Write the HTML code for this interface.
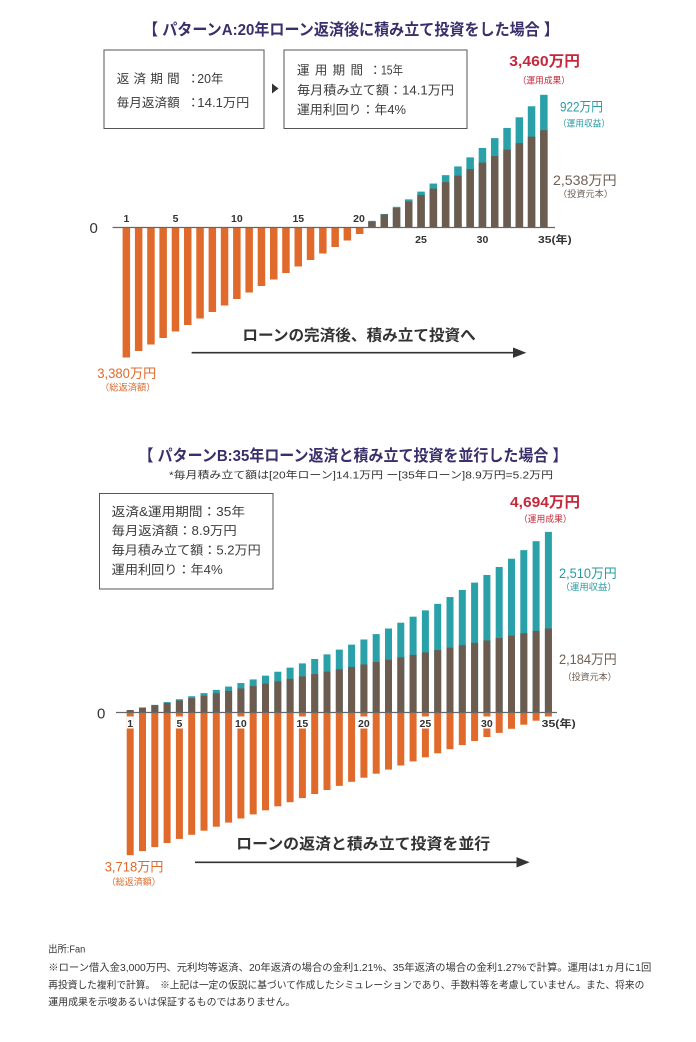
<!DOCTYPE html>
<html><head><meta charset="utf-8">
<style>
html,body{margin:0;padding:0;background:#fff;}
svg{display:block;}
text{font-family:"Liberation Sans","Noto Sans CJK JP",sans-serif;}
.ttl{font-size:16px;font-weight:bold;fill:#3a2f6b;}
.box{font-size:12.5px;fill:#3c3c3c;}
.box2{font-size:12.5px;fill:#3c3c3c;}
.red{fill:#c4283a;font-weight:bold;font-size:15px;}
.teal{fill:#2a9aa5;font-size:13.5px;}
.brn{fill:#6f6055;font-size:13.5px;}
.org{fill:#e06a2c;font-size:13.5px;}
.sm{font-size:9px;}
.ax{font-size:10.5px;font-weight:bold;fill:#333;}
.zero{font-size:15px;fill:#333;}
.arr{font-size:15.5px;font-weight:bold;fill:#333;}
.ft{font-size:10px;fill:#333;}
</style></head>
<body>
<svg width="696" height="1042" viewBox="0 0 696 1042" xmlns="http://www.w3.org/2000/svg">
<rect x="0" y="0" width="696" height="1042" fill="#fff"/>

<!-- ===== Chart A ===== -->
<text class="ttl" x="143" y="35" textLength="416" lengthAdjust="spacingAndGlyphs">【 パターンA:20年ローン返済後に積み立て投資をした場合 】</text>

<rect x="104" y="50" width="160" height="78.5" fill="#fff" stroke="#555" stroke-width="1"/>
<text class="box" x="116.7" y="83" textLength="63" lengthAdjust="spacing">返済期間</text>
<text class="box" x="187" y="83">：</text>
<text class="box" x="197.3" y="83" textLength="26" lengthAdjust="spacingAndGlyphs">20年</text>
<text class="box" x="116.7" y="107" textLength="63" lengthAdjust="spacingAndGlyphs">毎月返済額</text>
<text class="box" x="187" y="107">：</text>
<text class="box" x="197.3" y="107" textLength="52" lengthAdjust="spacingAndGlyphs">14.1万円</text>

<polygon points="272,83.5 278.5,88.5 272,93.5" fill="#333"/>

<rect x="284" y="50" width="183" height="78.5" fill="#fff" stroke="#555" stroke-width="1"/>
<text class="box2" x="297" y="74.5" textLength="66" lengthAdjust="spacing">運用期間</text>
<text class="box2" x="369" y="74.5">：</text>
<text class="box2" x="381" y="74.5" textLength="22" lengthAdjust="spacingAndGlyphs">15年</text>
<text class="box2" x="297" y="94.5" textLength="157" lengthAdjust="spacingAndGlyphs">毎月積み立て額：14.1万円</text>
<text class="box2" x="297" y="114" textLength="109" lengthAdjust="spacingAndGlyphs">運用利回り：年4%</text>

<text class="red" x="509.3" y="66" textLength="70.7" lengthAdjust="spacingAndGlyphs">3,460万円</text>
<text class="red sm" style="font-weight:normal" x="517.7" y="83.5" textLength="52.3" lengthAdjust="spacingAndGlyphs">（運用成果）</text>
<text class="teal" x="560" y="111.5" textLength="43" lengthAdjust="spacingAndGlyphs">922万円</text>
<text class="teal sm" x="558" y="126.7" textLength="52" lengthAdjust="spacingAndGlyphs">（運用収益）</text>
<text class="brn" x="553" y="185" textLength="63.7" lengthAdjust="spacingAndGlyphs">2,538万円</text>
<text class="brn sm" x="558" y="196.8" textLength="55" lengthAdjust="spacingAndGlyphs">（投資元本）</text>

<g transform="translate(0,227.5)">
<g fill="#e06a2c">
<rect x="122.6" y="0" width="7.5" height="130"/>
<rect x="134.9" y="0" width="7.5" height="123.5"/>
<rect x="147.2" y="0" width="7.5" height="117"/>
<rect x="159.4" y="0" width="7.5" height="110.5"/>
<rect x="171.7" y="0" width="7.5" height="104"/>
<rect x="184.0" y="0" width="7.5" height="97.5"/>
<rect x="196.3" y="0" width="7.5" height="91"/>
<rect x="208.6" y="0" width="7.5" height="84.5"/>
<rect x="220.8" y="0" width="7.5" height="78"/>
<rect x="233.1" y="0" width="7.5" height="71.5"/>
<rect x="245.4" y="0" width="7.5" height="65"/>
<rect x="257.7" y="0" width="7.5" height="58.5"/>
<rect x="270.0" y="0" width="7.5" height="52"/>
<rect x="282.2" y="0" width="7.5" height="45.5"/>
<rect x="294.5" y="0" width="7.5" height="39"/>
<rect x="306.8" y="0" width="7.5" height="32.5"/>
<rect x="319.1" y="0" width="7.5" height="26"/>
<rect x="331.4" y="0" width="7.5" height="19.5"/>
<rect x="343.6" y="0" width="7.5" height="13"/>
<rect x="355.9" y="0" width="7.5" height="6.5"/>
</g>
<g fill="#2aa0a8">
<rect x="368.2" y="-6.63" width="7.5" height="6.63"/>
<rect x="380.5" y="-13.52" width="7.5" height="13.52"/>
<rect x="392.8" y="-20.69" width="7.5" height="20.69"/>
<rect x="405.0" y="-28.14" width="7.5" height="28.14"/>
<rect x="417.3" y="-35.89" width="7.5" height="35.89"/>
<rect x="429.6" y="-43.96" width="7.5" height="43.96"/>
<rect x="441.9" y="-52.34" width="7.5" height="52.34"/>
<rect x="454.2" y="-61.07" width="7.5" height="61.07"/>
<rect x="466.4" y="-70.14" width="7.5" height="70.14"/>
<rect x="478.7" y="-79.57" width="7.5" height="79.57"/>
<rect x="491.0" y="-89.38" width="7.5" height="89.38"/>
<rect x="503.3" y="-99.58" width="7.5" height="99.58"/>
<rect x="515.6" y="-110.19" width="7.5" height="110.19"/>
<rect x="527.8" y="-121.23" width="7.5" height="121.23"/>
<rect x="540.1" y="-132.7" width="7.5" height="132.7"/>
</g>
<g fill="#6c5c50">
<rect x="368.2" y="-6.0" width="7.5" height="6.0"/>
<rect x="380.5" y="-12.98" width="7.5" height="12.98"/>
<rect x="392.8" y="-19.47" width="7.5" height="19.47"/>
<rect x="405.0" y="-25.96" width="7.5" height="25.96"/>
<rect x="417.3" y="-32.45" width="7.5" height="32.45"/>
<rect x="429.6" y="-38.94" width="7.5" height="38.94"/>
<rect x="441.9" y="-45.43" width="7.5" height="45.43"/>
<rect x="454.2" y="-51.92" width="7.5" height="51.92"/>
<rect x="466.4" y="-58.40" width="7.5" height="58.40"/>
<rect x="478.7" y="-64.89" width="7.5" height="64.89"/>
<rect x="491.0" y="-71.38" width="7.5" height="71.38"/>
<rect x="503.3" y="-77.87" width="7.5" height="77.87"/>
<rect x="515.6" y="-84.36" width="7.5" height="84.36"/>
<rect x="527.8" y="-90.85" width="7.5" height="90.85"/>
<rect x="540.1" y="-97.34" width="7.5" height="97.34"/>
</g>
</g>
<line x1="112.6" y1="227.5" x2="555" y2="227.5" stroke="#666" stroke-width="1.2"/>
<text class="zero" x="89.5" y="233">0</text>
<g class="ax" text-anchor="middle">
<text x="126.4" y="222">1</text>
<text x="175.5" y="222">5</text>
<text x="236.9" y="222">10</text>
<text x="298.3" y="222">15</text>
<text x="359.0" y="222">20</text>
<text x="421.0" y="243">25</text>
<text x="482.5" y="243">30</text>
</g>
<text class="ax" x="538" y="243" textLength="33.7" lengthAdjust="spacingAndGlyphs">35(年)</text>

<text class="org" x="97.2" y="378" textLength="59" lengthAdjust="spacingAndGlyphs">3,380万円</text>
<text class="org sm" x="100" y="390.5" textLength="55.5" lengthAdjust="spacingAndGlyphs">（総返済額）</text>

<text class="arr" x="242.4" y="340.5" textLength="233.4" lengthAdjust="spacingAndGlyphs">ローンの完済後、積み立て投資へ</text>
<line x1="191.6" y1="352.7" x2="518" y2="352.7" stroke="#333" stroke-width="1.6"/>
<polygon points="513,347.5 526.3,352.7 513,357.9" fill="#333"/>

<!-- ===== Chart B ===== -->
<text class="ttl" x="138.5" y="461" textLength="429" lengthAdjust="spacingAndGlyphs">【 パターンB:35年ローン返済と積み立て投資を並行した場合 】</text>
<text x="169" y="478.3" style="font-size:10px;fill:#333" textLength="384" lengthAdjust="spacingAndGlyphs">*毎月積み立て額は[20年ローン]14.1万円 ー[35年ローン]8.9万円=5.2万円</text>

<rect x="99.5" y="493.5" width="173.5" height="95.5" fill="#fff" stroke="#555" stroke-width="1"/>
<text class="box" x="111.7" y="516" textLength="133.3" lengthAdjust="spacingAndGlyphs">返済&amp;運用期間：35年</text>
<text class="box" x="111.7" y="535.2" textLength="125" lengthAdjust="spacingAndGlyphs">毎月返済額：8.9万円</text>
<text class="box" x="111.7" y="554.5" textLength="149" lengthAdjust="spacingAndGlyphs">毎月積み立て額：5.2万円</text>
<text class="box" x="111.7" y="573.8" textLength="111" lengthAdjust="spacingAndGlyphs">運用利回り：年4%</text>

<text class="red" x="510" y="507" textLength="70" lengthAdjust="spacingAndGlyphs">4,694万円</text>
<text class="red sm" style="font-weight:normal" x="519" y="521.8" textLength="52.7" lengthAdjust="spacingAndGlyphs">（運用成果）</text>
<text class="teal" x="559" y="578" textLength="57.7" lengthAdjust="spacingAndGlyphs">2,510万円</text>
<text class="teal sm" x="560.7" y="590.2" textLength="56" lengthAdjust="spacingAndGlyphs">（運用収益）</text>
<text class="brn" x="559" y="664" textLength="57.7" lengthAdjust="spacingAndGlyphs">2,184万円</text>
<text class="brn sm" x="562.7" y="680.2" textLength="54" lengthAdjust="spacingAndGlyphs">（投資元本）</text>

<g transform="translate(0,712.5)">
<g fill="#e06a2c">
<rect x="126.7" y="0" width="7" height="142.7"/>
<rect x="139.0" y="0" width="7" height="138.6"/>
<rect x="151.3" y="0" width="7" height="134.6"/>
<rect x="163.6" y="0" width="7" height="130.5"/>
<rect x="175.9" y="0" width="7" height="126.4"/>
<rect x="188.2" y="0" width="7" height="122.3"/>
<rect x="200.5" y="0" width="7" height="118.2"/>
<rect x="212.8" y="0" width="7" height="114.2"/>
<rect x="225.1" y="0" width="7" height="110.1"/>
<rect x="237.4" y="0" width="7" height="106.0"/>
<rect x="249.7" y="0" width="7" height="101.9"/>
<rect x="262.0" y="0" width="7" height="97.8"/>
<rect x="274.3" y="0" width="7" height="93.8"/>
<rect x="286.6" y="0" width="7" height="89.7"/>
<rect x="298.9" y="0" width="7" height="85.6"/>
<rect x="311.2" y="0" width="7" height="81.5"/>
<rect x="323.5" y="0" width="7" height="77.5"/>
<rect x="335.8" y="0" width="7" height="73.4"/>
<rect x="348.1" y="0" width="7" height="69.3"/>
<rect x="360.4" y="0" width="7" height="65.2"/>
<rect x="372.7" y="0" width="7" height="61.2"/>
<rect x="385.0" y="0" width="7" height="57.1"/>
<rect x="397.3" y="0" width="7" height="53.0"/>
<rect x="409.6" y="0" width="7" height="48.9"/>
<rect x="421.9" y="0" width="7" height="44.8"/>
<rect x="434.2" y="0" width="7" height="40.8"/>
<rect x="446.5" y="0" width="7" height="36.7"/>
<rect x="458.8" y="0" width="7" height="32.6"/>
<rect x="471.1" y="0" width="7" height="28.5"/>
<rect x="483.4" y="0" width="7" height="24.5"/>
<rect x="495.7" y="0" width="7" height="20.4"/>
<rect x="508.0" y="0" width="7" height="16.3"/>
<rect x="520.3" y="0" width="7" height="12.2"/>
<rect x="532.6" y="0" width="7" height="8.2"/>
<rect x="544.9" y="0" width="7" height="4.1"/>
</g>
<g fill="#2aa0a8">
<rect x="126.7" y="-2.45" width="7" height="2.45"/>
<rect x="139.0" y="-5.00" width="7" height="5.00"/>
<rect x="151.3" y="-7.65" width="7" height="7.65"/>
<rect x="163.6" y="-10.41" width="7" height="10.41"/>
<rect x="175.9" y="-13.28" width="7" height="13.28"/>
<rect x="188.2" y="-16.27" width="7" height="16.27"/>
<rect x="200.5" y="-19.37" width="7" height="19.37"/>
<rect x="212.8" y="-22.60" width="7" height="22.60"/>
<rect x="225.1" y="-25.95" width="7" height="25.95"/>
<rect x="237.4" y="-29.44" width="7" height="29.44"/>
<rect x="249.7" y="-33.07" width="7" height="33.07"/>
<rect x="262.0" y="-36.85" width="7" height="36.85"/>
<rect x="274.3" y="-40.77" width="7" height="40.77"/>
<rect x="286.6" y="-44.86" width="7" height="44.86"/>
<rect x="298.9" y="-49.10" width="7" height="49.10"/>
<rect x="311.2" y="-53.52" width="7" height="53.52"/>
<rect x="323.5" y="-58.11" width="7" height="58.11"/>
<rect x="335.8" y="-62.89" width="7" height="62.89"/>
<rect x="348.1" y="-67.86" width="7" height="67.86"/>
<rect x="360.4" y="-73.02" width="7" height="73.02"/>
<rect x="372.7" y="-78.40" width="7" height="78.40"/>
<rect x="385.0" y="-83.98" width="7" height="83.98"/>
<rect x="397.3" y="-89.80" width="7" height="89.80"/>
<rect x="409.6" y="-95.84" width="7" height="95.84"/>
<rect x="421.9" y="-102.13" width="7" height="102.13"/>
<rect x="434.2" y="-108.66" width="7" height="108.66"/>
<rect x="446.5" y="-115.46" width="7" height="115.46"/>
<rect x="458.8" y="-122.53" width="7" height="122.53"/>
<rect x="471.1" y="-129.89" width="7" height="129.89"/>
<rect x="483.4" y="-137.53" width="7" height="137.53"/>
<rect x="495.7" y="-145.49" width="7" height="145.49"/>
<rect x="508.0" y="-153.76" width="7" height="153.76"/>
<rect x="520.3" y="-162.36" width="7" height="162.36"/>
<rect x="532.6" y="-171.31" width="7" height="171.31"/>
<rect x="544.9" y="-180.61" width="7" height="180.61"/>
</g>
<g fill="#6c5c50">
<rect x="126.7" y="-2.40" width="7" height="2.40"/>
<rect x="139.0" y="-4.80" width="7" height="4.80"/>
<rect x="151.3" y="-7.20" width="7" height="7.20"/>
<rect x="163.6" y="-9.60" width="7" height="9.60"/>
<rect x="175.9" y="-12.00" width="7" height="12.00"/>
<rect x="188.2" y="-14.40" width="7" height="14.40"/>
<rect x="200.5" y="-16.81" width="7" height="16.81"/>
<rect x="212.8" y="-19.21" width="7" height="19.21"/>
<rect x="225.1" y="-21.61" width="7" height="21.61"/>
<rect x="237.4" y="-24.01" width="7" height="24.01"/>
<rect x="249.7" y="-26.41" width="7" height="26.41"/>
<rect x="262.0" y="-28.81" width="7" height="28.81"/>
<rect x="274.3" y="-31.21" width="7" height="31.21"/>
<rect x="286.6" y="-33.61" width="7" height="33.61"/>
<rect x="298.9" y="-36.01" width="7" height="36.01"/>
<rect x="311.2" y="-38.41" width="7" height="38.41"/>
<rect x="323.5" y="-40.81" width="7" height="40.81"/>
<rect x="335.8" y="-43.21" width="7" height="43.21"/>
<rect x="348.1" y="-45.62" width="7" height="45.62"/>
<rect x="360.4" y="-48.02" width="7" height="48.02"/>
<rect x="372.7" y="-50.42" width="7" height="50.42"/>
<rect x="385.0" y="-52.82" width="7" height="52.82"/>
<rect x="397.3" y="-55.22" width="7" height="55.22"/>
<rect x="409.6" y="-57.62" width="7" height="57.62"/>
<rect x="421.9" y="-60.02" width="7" height="60.02"/>
<rect x="434.2" y="-62.42" width="7" height="62.42"/>
<rect x="446.5" y="-64.82" width="7" height="64.82"/>
<rect x="458.8" y="-67.22" width="7" height="67.22"/>
<rect x="471.1" y="-69.62" width="7" height="69.62"/>
<rect x="483.4" y="-72.02" width="7" height="72.02"/>
<rect x="495.7" y="-74.42" width="7" height="74.42"/>
<rect x="508.0" y="-76.83" width="7" height="76.83"/>
<rect x="520.3" y="-79.23" width="7" height="79.23"/>
<rect x="532.6" y="-81.63" width="7" height="81.63"/>
<rect x="544.9" y="-84.03" width="7" height="84.03"/>
</g>
</g>
<line x1="116" y1="712.5" x2="557" y2="712.5" stroke="#666" stroke-width="1.2"/>
<text class="zero" x="97" y="718.5">0</text>
<g fill="#fff">
<rect x="126.7" y="716.5" width="7" height="12"/>
<rect x="175.9" y="716.5" width="7" height="12"/>
<rect x="234.4" y="716.5" width="13" height="12"/>
<rect x="295.9" y="716.5" width="13" height="12"/>
<rect x="357.4" y="716.5" width="13" height="12"/>
<rect x="418.9" y="716.5" width="13" height="12"/>
<rect x="480.4" y="716.5" width="13" height="12"/>
<rect x="541.5" y="716.5" width="10" height="12"/>
</g>
<g class="ax" text-anchor="middle">
<text x="130.2" y="727">1</text>
<text x="179.4" y="727">5</text>
<text x="240.9" y="727">10</text>
<text x="302.4" y="727">15</text>
<text x="363.9" y="727">20</text>
<text x="425.4" y="727">25</text>
<text x="486.9" y="727">30</text>
</g>
<text class="ax" x="541.7" y="727" textLength="34" lengthAdjust="spacingAndGlyphs">35(年)</text>

<text class="org" x="104.7" y="871.5" textLength="58.7" lengthAdjust="spacingAndGlyphs">3,718万円</text>
<text class="org sm" x="106.8" y="885" textLength="54" lengthAdjust="spacingAndGlyphs">（総返済額）</text>

<text class="arr" x="236.2" y="849" textLength="254" lengthAdjust="spacingAndGlyphs">ローンの返済と積み立て投資を並行</text>
<line x1="195" y1="862.3" x2="521" y2="862.3" stroke="#333" stroke-width="1.6"/>
<polygon points="516.5,857.1 529.7,862.3 516.5,867.5" fill="#333"/>

<!-- ===== Footer ===== -->
<text class="ft" x="48.3" y="952.5" textLength="37" lengthAdjust="spacingAndGlyphs">出所:Fan</text>
<text class="ft" x="48.3" y="971" textLength="603" lengthAdjust="spacingAndGlyphs">※ローン借入金3,000万円、元利均等返済、20年返済の場合の金利1.21%、35年返済の場合の金利1.27%で計算。運用は1ヵ月に1回</text>
<text class="ft" x="48.3" y="988.5" textLength="596" lengthAdjust="spacingAndGlyphs">再投資した複利で計算。　※上記は一定の仮説に基づいて作成したシミュレーションであり、手数料等を考慮していません。また、将来の</text>
<text class="ft" x="48.3" y="1005.5" textLength="247" lengthAdjust="spacingAndGlyphs">運用成果を示唆あるいは保証するものではありません。</text>
</svg>
</body></html>
